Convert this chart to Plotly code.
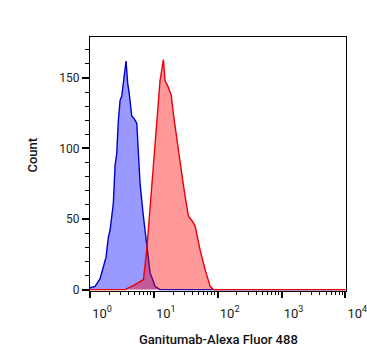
import plotly.graph_objects as go

# Blue (control) histogram: intensity, count
blue_x = [1.0, 1.037, 1.198, 1.435, 1.782, 1.937, 2.06, 2.32, 2.47, 2.62, 2.78, 2.96, 3.14, 3.33,
          3.67, 3.90, 4.09, 4.51, 4.95, 5.40, 6.09, 6.86, 7.75, 8.73, 10.47, 12.5, 10000]
blue_y = [1.5, 1.5, 2.3, 7.5, 23, 37, 42, 61, 88, 96, 120, 134, 137, 146,
          162, 146, 140, 123, 121, 118, 75, 52, 30, 12, 2.3, 0, 0]

# Red (Ganitumab) histogram
red_x = [1.0, 3.54, 5.08, 6.86, 7.75, 8.73, 9.84, 11.1, 12.5, 14.1, 15.0, 16.6, 18.7, 20.3,
         22.9, 27.4, 30.9, 34.8, 39.4, 44.4, 53.1, 63.7, 76.3, 85.9, 10000]
red_y = [0, 0, 3.5, 7, 28, 59, 92, 122, 148, 163, 148, 144, 138, 124,
         106, 82, 66, 52, 49, 45, 28, 14, 2.3, 0, 0]

x_tickvals = [1, 10, 100, 1000, 10000]
x_ticktext = ["10<sup>0</sup>", "10<sup>1</sup>", "10<sup>2</sup>", "10<sup>3</sup>", "10<sup>4</sup>"]
y_tickvals = [0, 50, 100, 150]

fig = go.Figure()
fig.add_trace(go.Scatter(x=blue_x, y=blue_y, mode="lines", fill="tozeroy",
                         line=dict(color="#0000CC", width=1.4),
                         fillcolor="rgba(0,0,255,0.4)", showlegend=False))
fig.add_trace(go.Scatter(x=red_x, y=red_y, mode="lines", fill="tozeroy",
                         line=dict(color="#E8000B", width=1.4),
                         fillcolor="rgba(255,0,0,0.4)", showlegend=False))

fig.update_layout(
    width=367, height=364,
    margin=dict(l=90, r=21, t=37, b=73, autoexpand=False),
    plot_bgcolor="white", paper_bgcolor="white",
    font=dict(family="Roboto", size=12, color="#222"),
    xaxis=dict(type="log", range=[0, 4.01], tickvals=x_tickvals, ticktext=x_ticktext,
               showline=True, linecolor="black", linewidth=1, mirror=True,
               ticks="outside", ticklen=6, tickwidth=1.5, tickcolor="black",
               showgrid=False, zeroline=False, ticklabelshift=12, ticklabelstandoff=4,
               ticklabeloverflow="allow", automargin=False,
               tickfont=dict(size=13),
               minor=dict(ticks="outside", ticklen=3, tickwidth=1, tickcolor="black",
                          dtick="D1", showgrid=False)),
    yaxis=dict(range=[-1, 179], tickvals=y_tickvals, automargin=False,
               showline=True, linecolor="black", linewidth=1, mirror=True,
               ticks="outside", ticklen=7, tickwidth=1.5, tickcolor="black",
               showgrid=False, zeroline=False,
               minor=dict(ticks="outside", ticklen=4, tickwidth=1, tickcolor="black",
                          dtick=10, showgrid=False)),
    annotations=[
        dict(text="Ganitumab-Alexa Fluor 488", xref="paper", yref="paper", x=0.5, y=-0.19,
             xanchor="center", yanchor="middle", showarrow=False,
             font=dict(family="Roboto", size=13, color="#111", weight=500)),
        dict(text="Count", xref="paper", yref="paper", x=-0.223, y=0.537, textangle=-90,
             xanchor="center", yanchor="middle", showarrow=False,
             font=dict(family="Roboto", size=13, color="#111", weight=500)),
    ],
)

fig.write_html("out.html")
